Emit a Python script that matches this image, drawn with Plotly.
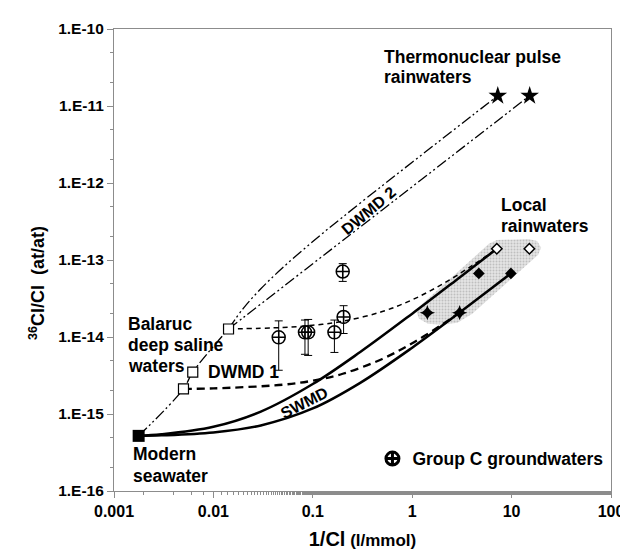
import plotly.graph_objects as go

# ---------------- data ----------------
# End-members
seawater_x = [0.00177]
seawater_y = [5.2e-16]

balaruc_x = [0.0050, 0.0062, 0.0142]
balaruc_y = [2.12e-15, 3.5e-15, 1.27e-14]

thermo_x = [7.26, 15.2]
thermo_y = [1.36e-11, 1.36e-11]

local_open_x = [7.1, 15.1]
local_open_y = [1.4e-13, 1.4e-13]

local_fill_diam_x = [4.68, 9.84]
local_fill_diam_y = [6.7e-14, 6.7e-14]

local_fill_star_x = [1.42, 3.0]
local_fill_star_y = [2.07e-14, 2.07e-14]

# Group C groundwaters (value, upper and lower end of error bar)
groupc_x = [0.0454, 0.0834, 0.0898, 0.165, 0.204, 0.200]
groupc_y = [9.9e-15, 1.15e-14, 1.15e-14, 1.15e-14, 1.82e-14, 7.08e-14]
groupc_hi = [1.62e-14, 1.66e-14, 1.69e-14, 1.66e-14, 2.55e-14, 8.97e-14]
groupc_lo = [3.7e-15, 5.96e-15, 5.76e-15, 6.3e-15, 1.11e-14, 5.27e-14]

# Mixing lines
dwmd_chain_x = [0.00177, 0.0050, 0.0062, 0.0142]
dwmd_chain_y = [5.2e-16, 2.12e-15, 3.5e-15, 1.27e-14]

dwmd2a_x = [0.0142, 0.02, 0.03, 0.05, 0.1, 0.2, 0.5, 1, 2, 4, 7.26]
dwmd2a_y = [1.27e-14, 2.36e-14, 4.23e-14, 7.98e-14, 1.74e-13, 3.61e-13,
            9.24e-13, 1.86e-12, 3.74e-12, 7.49e-12, 1.36e-11]

dwmd2b_x = [0.0142, 0.02, 0.03, 0.05, 0.1, 0.2, 0.5, 1, 2, 4, 8, 15.2]
dwmd2b_y = [1.27e-14, 1.79e-14, 2.68e-14, 4.47e-14, 8.95e-14, 1.79e-13,
            4.47e-13, 8.95e-13, 1.79e-12, 3.58e-12, 7.16e-12, 1.36e-11]

dwmd1a_x = [0.0050, 0.01, 0.05, 0.1, 0.2, 0.5, 1, 2, 3.0]
dwmd1a_y = [2.12e-15, 2.15e-15, 2.40e-15, 2.71e-15, 3.33e-15, 5.19e-15,
            8.29e-15, 1.45e-14, 2.07e-14]

dwmd1b_x = [0.0142, 0.05, 0.1, 0.2, 0.5, 1, 2, 4, 7.1]
dwmd1b_y = [1.27e-14, 1.33e-14, 1.42e-14, 1.60e-14, 2.14e-14, 3.04e-14,
            4.84e-14, 8.43e-14, 1.4e-13]

swmd_a_x = [0.00177, 0.003, 0.01, 0.03, 0.1, 0.3, 1, 3, 7.1]
swmd_a_y = [5.2e-16, 5.44e-16, 6.82e-16, 1.075e-15, 2.45e-15, 6.38e-15,
            2.01e-14, 5.94e-14, 1.4e-13]

swmd_b_x = [0.00177, 0.003, 0.01, 0.03, 0.1, 0.3, 1, 3, 6, 9.84]
swmd_b_y = [5.2e-16, 5.28e-16, 5.76e-16, 7.11e-16, 1.18e-15, 2.54e-15,
            7.27e-15, 2.08e-14, 4.11e-14, 6.7e-14]

# Local rainwater envelope (shaded area)
rain_area_x = [1.096, 1.173, 1.44, 2.03, 2.85, 4.02, 18.5, 19.8, 18.1, 14.7, 7.10, 5.92, 1.28, 1.096]
rain_area_y = [2.18e-14, 1.72e-14, 1.49e-14, 1.44e-14, 1.53e-14, 2.0e-14, 1.17e-13,
               1.44e-13, 1.77e-13, 1.87e-13, 1.82e-13, 1.62e-13, 2.75e-14, 2.18e-14]

x_tickvals = [0.001, 0.01, 0.1, 1, 10, 100]
x_ticktext = ["0.001", "0.01", "0.1", "1", "10", "100"]
y_tickvals = [1e-16, 1e-15, 1e-14, 1e-13, 1e-12, 1e-11, 1e-10]
y_ticktext = ["1.E-16", "1.E-15", "1.E-14", "1.E-13", "1.E-12", "1.E-11", "1.E-10"]

# ---------------- figure ----------------
FONT = "Liberation Sans, Arial, sans-serif"
DDOT = "11px,3px,2px,3px,2px,3px"

fig = go.Figure()

fig.add_trace(go.Scatter(
    x=rain_area_x, y=rain_area_y, mode="lines", fill="toself",
    line=dict(width=0, color="rgba(0,0,0,0)"),
    fillcolor="#dcdcdc",
    fillpattern=dict(shape=".", fgcolor="#9a9a9a", bgcolor="#e4e4e4", size=3, solidity=0.35),
    showlegend=False, hoverinfo="skip"))

def add_line(xs, ys, dash, width):
    fig.add_trace(go.Scatter(x=xs, y=ys, mode="lines", line_shape="spline",
                             line=dict(color="black", width=width, dash=dash),
                             showlegend=False, hoverinfo="skip"))

add_line(dwmd_chain_x, dwmd_chain_y, DDOT, 1.3)
add_line(dwmd2a_x, dwmd2a_y, DDOT, 1.3)
add_line(dwmd2b_x, dwmd2b_y, DDOT, 1.3)
add_line(dwmd1a_x, dwmd1a_y, "8px,5px", 2.3)
add_line(dwmd1b_x, dwmd1b_y, "5px,4px", 1.5)
add_line(swmd_a_x, swmd_a_y, "solid", 2.5)
add_line(swmd_b_x, swmd_b_y, "solid", 2.5)

# markers
fig.add_trace(go.Scatter(x=seawater_x, y=seawater_y, mode="markers",
                         marker=dict(symbol="square", size=12, color="black"),
                         showlegend=False))
fig.add_trace(go.Scatter(x=balaruc_x, y=balaruc_y, mode="markers",
                         marker=dict(symbol="square", size=10, color="white",
                                     line=dict(color="black", width=1.2)),
                         showlegend=False))
fig.add_trace(go.Scatter(x=thermo_x, y=thermo_y, mode="markers",
                         marker=dict(symbol="star", size=14, color="black"),
                         showlegend=False))
fig.add_trace(go.Scatter(x=local_open_x, y=local_open_y, mode="markers",
                         marker=dict(symbol="diamond", size=8, color="white",
                                     line=dict(color="black", width=1.5)),
                         showlegend=False))
fig.add_trace(go.Scatter(x=local_fill_diam_x, y=local_fill_diam_y, mode="markers",
                         marker=dict(symbol="diamond", size=9, color="black"),
                         showlegend=False))
fig.add_trace(go.Scatter(x=local_fill_star_x, y=local_fill_star_y, mode="markers",
                         marker=dict(symbol="star-diamond", size=11, color="black"),
                         showlegend=False))

err_plus = [h - v for h, v in zip(groupc_hi, groupc_y)]
err_minus = [v - l for v, l in zip(groupc_y, groupc_lo)]
fig.add_trace(go.Scatter(
    x=groupc_x, y=groupc_y, mode="markers", name="Group C groundwaters",
    marker=dict(symbol="circle-cross-open", size=13, color="black", line=dict(width=1.5)),
    error_y=dict(type="data", array=err_plus, arrayminus=err_minus,
                 color="black", thickness=1, width=4),
    showlegend=False))
# legend entry (bold symbol, as in the reference legend)
fig.add_trace(go.Scatter(
    x=[None], y=[None], mode="markers", name="Group C groundwaters",
    marker=dict(symbol="circle-cross-open", size=13, color="black", line=dict(width=3)),
    showlegend=True))

def label(text, lx, ly, anchor="left", angle=0, size=17.5):
    fig.add_annotation(text=text, x=lx, y=ly, xref="x", yref="y",
                       xanchor=anchor, yanchor="middle", showarrow=False,
                       textangle=angle,
                       font=dict(family=FONT, size=size, color="black", weight="bold"))

label("Thermonuclear pulse", -0.307, -10.358)
label("rainwaters", -0.307, -10.627)
label("Local", 0.871, -12.292)
label("rainwaters", 0.871, -12.561)
label("Balaruc", -2.881, -13.828)
label("deep saline", -2.881, -14.110)
label("waters", -2.881, -14.379)
label("DWMD 1", -1.693, -14.456, anchor="center")
label("Modern", -2.832, -15.519)
label("seawater", -2.832, -15.80)
label("SWMD", -1.079, -14.853, anchor="center", angle=-27, size=16)
label("DWMD 2", -0.436, -12.356, anchor="center", angle=-40, size=16)

# y-axis title
fig.add_annotation(text="<sup>36</sup>Cl/Cl  (at/at)", x=-0.155, y=-13.3,
                   xref="paper", yref="y", xanchor="center", yanchor="middle",
                   showarrow=False, textangle=-90,
                   font=dict(family=FONT, size=18, color="black", weight="bold"))

axis_common = dict(
    type="log", showgrid=False, zeroline=False,
    showline=True, linecolor="#8c8c8c", linewidth=1.2, mirror=True,
    ticks="outside", ticklen=6, tickcolor="#8c8c8c", tickwidth=1,
    minor=dict(ticks="outside", ticklen=3, tickcolor="#8c8c8c", showgrid=False),
)

fig.update_xaxes(**axis_common, range=[-3, 2], tickvals=x_tickvals, ticktext=x_ticktext,
                 tickfont=dict(family=FONT, size=16, color="black", weight="bold"),
                 title=dict(text="<span style='font-size:20px'>1/Cl</span> (l/mmol)",
                            font=dict(family=FONT, size=17, color="black", weight="bold"),
                            standoff=14))
fig.update_yaxes(**axis_common, range=[-16, -10], tickvals=y_tickvals, ticktext=y_ticktext,
                 tickfont=dict(family=FONT, size=15.5, color="black", weight="bold"))

fig.update_layout(
    width=628, height=556,
    margin=dict(l=106, r=17, t=14, b=73),
    paper_bgcolor="white", plot_bgcolor="white",
    font=dict(family=FONT, color="black"),
    showlegend=True,
    legend=dict(x=0.52, y=0.07, xanchor="left", yanchor="middle",
                bgcolor="rgba(0,0,0,0)", borderwidth=0, itemwidth=30,
                font=dict(family=FONT, size=17.5, color="black", weight="bold")),
)

fig.write_html("out.html")
